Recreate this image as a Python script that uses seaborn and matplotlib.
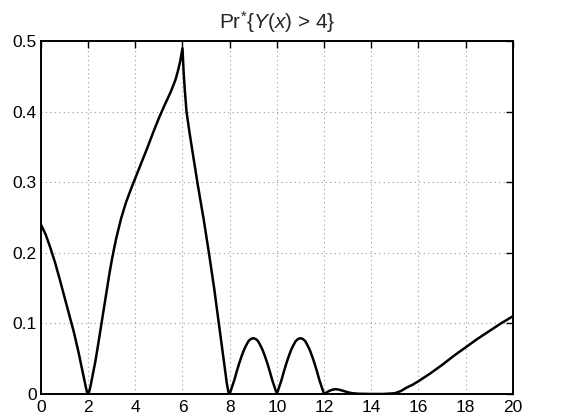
import matplotlib
matplotlib.use("Agg")
import matplotlib.pyplot as plt
import seaborn as sns
import pandas as pd

# Probability curve Pr*{Y(x) > 4} sampled along x
x_vals = [
    0.0, 0.2, 0.4, 0.6, 0.8, 1.0, 1.2, 1.4, 1.6, 1.8, 1.9, 1.95, 2.0,
    2.05, 2.1, 2.2, 2.3, 2.4, 2.5, 2.6, 2.7, 2.8, 2.9, 3.0, 3.1, 3.2, 3.4,
    3.6, 3.8, 4.0, 4.25, 4.5, 4.75, 5.0, 5.25, 5.5, 5.7, 5.8, 5.9, 6.0,
    6.05, 6.1, 6.17, 6.3, 6.45, 6.65, 6.9, 7.12, 7.35, 7.54, 7.7, 7.8,
    7.88, 7.95, 8.0,
    8.1, 8.2, 8.3, 8.4, 8.5, 8.6, 8.7, 8.8, 8.9, 9.0,
    9.1, 9.2, 9.3, 9.4, 9.5, 9.6, 9.7, 9.8, 9.9, 10.0,
    10.1, 10.2, 10.3, 10.4, 10.5, 10.6, 10.7, 10.8, 10.9, 11.0,
    11.1, 11.2, 11.3, 11.4, 11.5, 11.6, 11.7, 11.8, 11.9, 12.0,
    12.1, 12.2, 12.35, 12.5, 12.65, 12.8, 13.0, 13.2, 13.5, 14.0, 14.5,
    15.0, 15.25, 15.5, 15.75, 16.0, 16.5, 17.0, 17.5, 18.0, 18.5, 19.0,
    19.5, 20.0,
]
prob_vals = [
    0.240, 0.226, 0.207, 0.186, 0.162, 0.137, 0.112, 0.087, 0.058, 0.026,
    0.010, 0.003, 0.000,
    0.004, 0.011, 0.028, 0.045, 0.065, 0.086, 0.107, 0.128, 0.149, 0.170,
    0.189, 0.206, 0.222, 0.249,
    0.271, 0.289, 0.306, 0.327, 0.348, 0.370, 0.391, 0.410, 0.428, 0.445,
    0.457, 0.471, 0.490,
    0.455, 0.430, 0.400, 0.370, 0.338, 0.296, 0.247, 0.200, 0.148, 0.100,
    0.060, 0.035, 0.015, 0.002, 0.000,
    0.010, 0.020, 0.032, 0.043, 0.053, 0.062, 0.069, 0.075, 0.078, 0.079,
    0.078, 0.075, 0.069, 0.062, 0.053, 0.043, 0.032, 0.020, 0.010, 0.000,
    0.010, 0.020, 0.032, 0.043, 0.053, 0.062, 0.069, 0.075, 0.078, 0.079,
    0.078, 0.075, 0.069, 0.062, 0.053, 0.043, 0.032, 0.020, 0.010, 0.000,
    0.002, 0.004, 0.006, 0.0068, 0.006, 0.0045, 0.0025, 0.001, 0.0003,
    0.000, 0.000,
    0.001, 0.004, 0.009, 0.013, 0.018, 0.029, 0.041, 0.054, 0.066, 0.078,
    0.089, 0.100, 0.110,
]

x_ticks = list(range(0, 21, 2))
y_ticks = [0, 0.1, 0.2, 0.3, 0.4, 0.5]
y_tick_labels = ["0", "0.1", "0.2", "0.3", "0.4", "0.5"]
title_text = r"Pr$^{*}${$\mathit{Y}$($\mathit{x}$) > 4}"

sns.set_style("white")
plt.rcParams["font.family"] = ["Liberation Sans", "DejaVu Sans"]
plt.rcParams["mathtext.fontset"] = "custom"
plt.rcParams["mathtext.rm"] = "Liberation Sans"
plt.rcParams["mathtext.it"] = "Liberation Sans:italic"

df = pd.DataFrame({"x": x_vals, "p": prob_vals})

fig = plt.figure(figsize=(5.61, 4.20), dpi=100)
ax = fig.add_axes([0.073, 0.062, 0.841, 0.840])

sns.lineplot(data=df, x="x", y="p", color="black", linewidth=1.8,
             estimator=None, sort=False, ax=ax)

ax.set_xlim(0, 20)
ax.set_ylim(0, 0.5)
ax.set_xticks(x_ticks)
ax.set_xticklabels([str(t) for t in x_ticks])
ax.set_yticks(y_ticks)
ax.set_yticklabels(y_tick_labels)
ax.set_xlabel("")
ax.set_ylabel("")

ax.grid(True, linestyle=(0, (1, 3)), color="#999999", linewidth=0.8)
ax.set_axisbelow(True)

for side in ["left", "right", "top", "bottom"]:
    ax.spines[side].set_visible(True)
    ax.spines[side].set_color("black")
    ax.spines[side].set_linewidth(1.4)

ax.tick_params(direction="in", length=5, width=1.0, top=True, right=True,
               labelsize=12.5, colors="black")
ax.tick_params(axis="x", pad=4)
ax.tick_params(axis="y", pad=3)

ax.set_title(title_text, fontsize=15, pad=9)

fig.savefig("out.png", dpi=100)
